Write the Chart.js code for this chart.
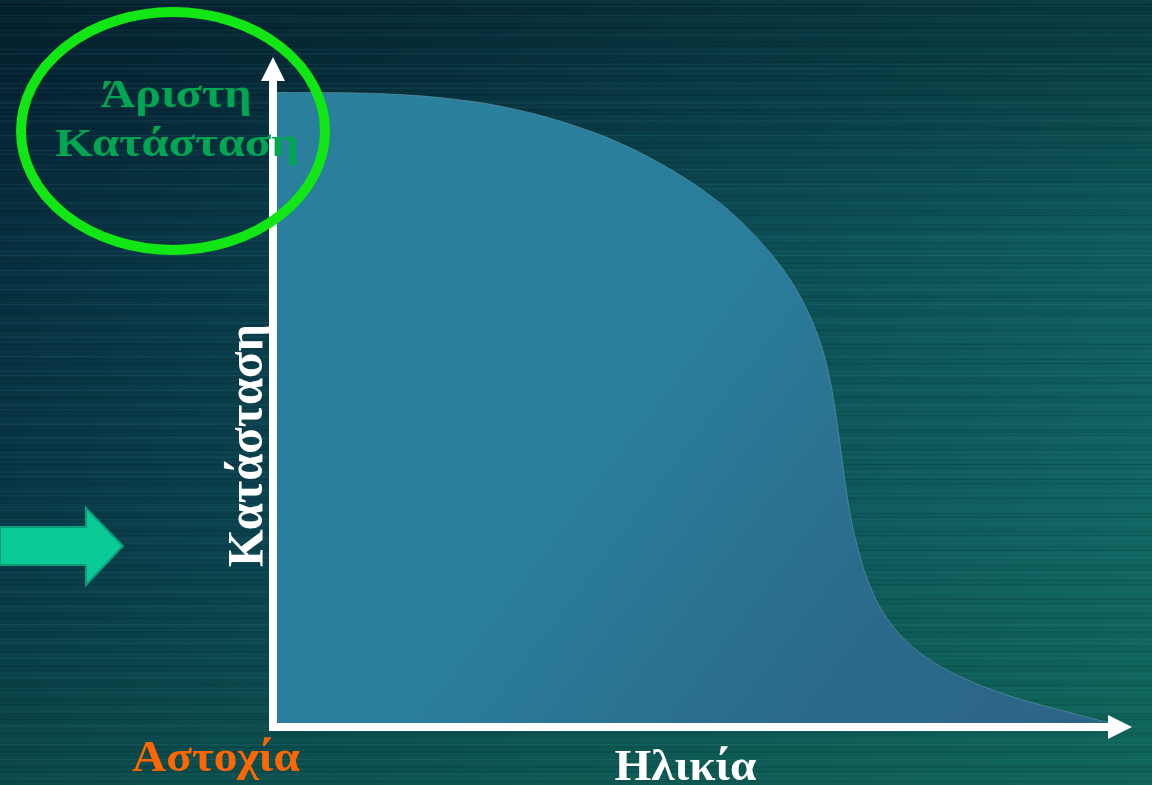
<!DOCTYPE html>
<html lang="el">
<head>
<meta charset="utf-8">
<title>Κατάσταση – Ηλικία</title>
<script src="https://cdn.jsdelivr.net/npm/chart.js@4/dist/chart.umd.min.js"></script>
<style>
  html, body { margin: 0; padding: 0; background: #0a3a44; overflow: hidden; }
  #wrap { width: 1152px; height: 785px; position: relative; }
  canvas { display: block; }
</style>
</head>
<body>
<div id="wrap"><canvas id="c" width="1152" height="785"></canvas></div>
<script>
// Age axis (0 = new, 100 = end of life) and condition (100 = best, 0 = failure)
const age       = [0, 5.16, 12.36, 19.57, 26.77, 33.97, 41.18, 48.38, 53.18, 56.78, 60.38, 62.79, 64.59, 65.79,
                   66.63, 67.35, 68.07, 68.79, 69.75, 70.95, 72.39, 74.19, 76.59, 79.59, 83.19, 88.0, 94.0, 100];
const condition = [100, 99.94, 99.76, 99.13, 97.78, 95.4, 91.92, 86.85, 82.41, 78.07, 72.58, 67.67, 62.6, 57.84,
                   52.77, 46.59, 39.46, 33.28, 27.58, 22.5, 18.38, 14.9, 11.73, 9.03, 6.66, 4.28, 2.06, 0];

const xAxisTitle = 'Ηλικία';
const yAxisTitle = 'Κατάσταση';
const bestLabel  = ['Άριστη', 'Κατάσταση'];
const failLabel  = 'Αστοχία';

const SERIF = '"Liberation Serif", "DejaVu Serif", "Times New Roman", serif';

// Draws a text line stretched/condensed to a given width
function fitText(ctx, txt, size, cx, baseY, width, color, angle) {
  ctx.save();
  ctx.font = 'bold ' + size + 'px ' + SERIF;
  const w = ctx.measureText(txt).width;
  ctx.translate(cx, baseY);
  if (angle) ctx.rotate(angle);
  ctx.scale(width / w, 1);
  ctx.fillStyle = color;
  ctx.textAlign = 'center';
  ctx.textBaseline = 'alphabetic';
  ctx.fillText(txt, 0, 0);
  ctx.restore();
}

const decor = {
  id: 'decor',
  beforeDraw(chart) {
    const ctx = chart.ctx, W = chart.width, H = chart.height;
    ctx.save();
    const g = ctx.createLinearGradient(0, 0, W, H);
    g.addColorStop(0, '#06283a');
    g.addColorStop(0.45, '#0b4852');
    g.addColorStop(1, '#116b64');
    ctx.fillStyle = g;
    ctx.fillRect(0, 0, W, H);
    // darker band along the top, greener toward the bottom
    const v = ctx.createLinearGradient(0, 0, 0, H);
    v.addColorStop(0, 'rgba(2,18,28,0.45)');
    v.addColorStop(0.3, 'rgba(2,18,28,0.0)');
    v.addColorStop(0.7, 'rgba(10,80,60,0.0)');
    v.addColorStop(1, 'rgba(12,90,70,0.35)');
    ctx.fillStyle = v;
    ctx.fillRect(0, 0, W, H);
    // brushed horizontal streaks
    for (let y = 0; y < H; y++) {
      const s = Math.sin(y * 1.31) + Math.sin(y * 0.373 + 1.1) + Math.sin(y * 2.93 + 2.2);
      if (s > 1.1) {
        ctx.fillStyle = 'rgba(90,170,170,' + (0.05 + 0.05 * (s - 1.1)).toFixed(3) + ')';
        ctx.fillRect(0, y, W, 1);
      } else if (s < -1.2) {
        ctx.fillStyle = 'rgba(0,15,20,' + (0.08 + 0.06 * (-s - 1.2)).toFixed(3) + ')';
        ctx.fillRect(0, y, W, 1);
      }
    }
    ctx.restore();
  },
  afterDatasetsDraw(chart) {
    const ctx = chart.ctx;
    const xs = chart.scales.x, ys = chart.scales.y;
    const x0 = xs.getPixelForValue(0), x1 = xs.getPixelForValue(100);
    const y0 = ys.getPixelForValue(0), y1 = ys.getPixelForValue(100);
    const ax = x0 - 4, ay = y0 + 4;

    ctx.save();
    // axes with arrowheads
    ctx.strokeStyle = '#ffffff';
    ctx.fillStyle = '#ffffff';
    ctx.lineWidth = 8;
    ctx.lineCap = 'butt';
    ctx.beginPath();
    ctx.moveTo(ax, ay + 4);
    ctx.lineTo(ax, y1 - 12);
    ctx.moveTo(ax - 4, ay);
    ctx.lineTo(x1, ay);
    ctx.stroke();
    ctx.beginPath();
    ctx.moveTo(ax, y1 - 35);
    ctx.lineTo(ax - 12, y1 - 11);
    ctx.lineTo(ax + 12, y1 - 11);
    ctx.closePath();
    ctx.fill();
    ctx.beginPath();
    ctx.moveTo(x1 + 22, ay);
    ctx.lineTo(x1 - 2, ay - 12);
    ctx.lineTo(x1 - 2, ay + 12);
    ctx.closePath();
    ctx.fill();

    // axis titles
    fitText(ctx, xAxisTitle, 45, (x0 + x1) / 2 - 8, 780, 142, '#ffffff');
    fitText(ctx, yAxisTitle, 50, 262, (y0 + y1) / 2 + 38, 243, '#ffffff', -Math.PI / 2);

    // best-condition label and ring
    fitText(ctx, bestLabel[0], 40, 176, 107, 151, '#00a651');
    fitText(ctx, bestLabel[1], 40, 177, 156, 244, '#00a651');
    ctx.beginPath();
    ctx.ellipse(173, 131, 152, 119, 0, 0, Math.PI * 2);
    ctx.strokeStyle = '#12e614';
    ctx.lineWidth = 10;
    ctx.stroke();

    // failure label
    fitText(ctx, failLabel, 44, 216, 771, 168, '#ff6600');

    // pointer arrow on the left
    ctx.beginPath();
    ctx.moveTo(0, 527);
    ctx.lineTo(86, 527);
    ctx.lineTo(86, 508);
    ctx.lineTo(123, 546);
    ctx.lineTo(86, 585);
    ctx.lineTo(86, 565);
    ctx.lineTo(0, 565);
    ctx.closePath();
    ctx.fillStyle = '#0acb96';
    ctx.fill();
    ctx.strokeStyle = '#0a9c78';
    ctx.lineWidth = 2;
    ctx.stroke();
    ctx.restore();
  }
};

const points = age.map((a, i) => ({ x: a, y: condition[i] }));

new Chart(document.getElementById('c'), {
  type: 'line',
  data: {
    datasets: [{
      data: points,
      fill: 'origin',
      cubicInterpolationMode: 'monotone',
      pointRadius: 0,
      borderWidth: 1,
      borderColor: 'rgba(170,200,210,0.3)',
      backgroundColor(ctx) {
        const area = ctx.chart.chartArea;
        if (!area) return '#2a7c9a';
        const g = ctx.chart.ctx.createLinearGradient(area.left, area.top, area.right, area.bottom);
        g.addColorStop(0, '#2a809c');
        g.addColorStop(0.45, '#2a7e9c');
        g.addColorStop(0.75, '#2b6a8b');
        g.addColorStop(1, '#2c6488');
        return g;
      }
    }]
  },
  options: {
    responsive: false,
    animation: false,
    layout: { padding: { left: 277, right: 42, top: 92, bottom: 62 } },
    scales: {
      x: { type: 'linear', min: 0, max: 100, display: false },
      y: { min: 0, max: 100, display: false }
    },
    plugins: { legend: { display: false }, tooltip: { enabled: false } }
  },
  plugins: [decor]
});
</script>
</body>
</html>
